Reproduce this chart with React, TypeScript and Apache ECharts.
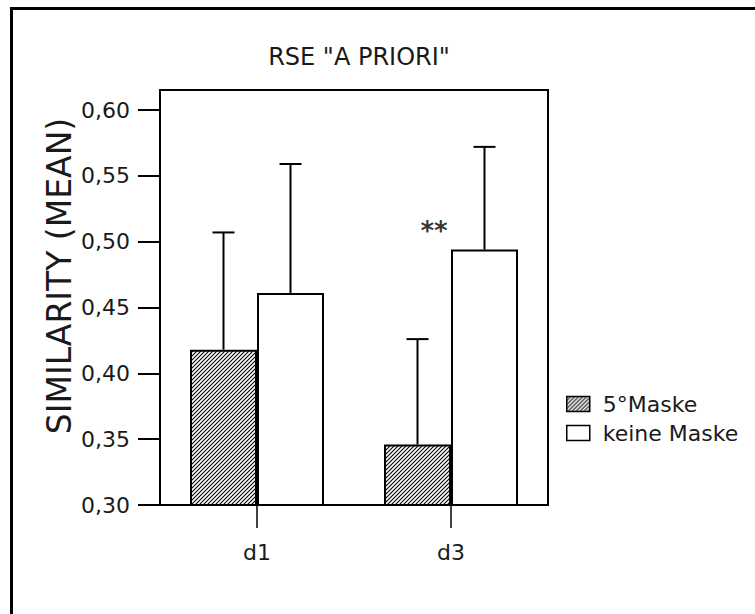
import React, { useEffect, useRef } from 'react';
import * as echarts from 'echarts';

const categories = ['d1', 'd3'];
const seriesNames = ['5°Maske', 'keine Maske'];
const maske5Mean = [0.418, 0.346];
const maske5Upper = [0.507, 0.426];
const keineMean = [0.461, 0.494];
const keineUpper = [0.559, 0.572];
const yTicks = [0.3, 0.35, 0.4, 0.45, 0.5, 0.55, 0.6];
const titleText = 'RSE "A PRIORI"';
const yAxisTitle = 'SIMILARITY (MEAN)';
const significance = [{ category: 'd3', value: 0.51, text: '**' }];

const FONT = 'DejaVu Sans';
const TXT = '#1a1a1a';

function makeHatch(): HTMLCanvasElement {
  const c = document.createElement('canvas');
  c.width = 4;
  c.height = 4;
  const ctx = c.getContext('2d')!;
  ctx.fillStyle = '#fff';
  ctx.fillRect(0, 0, 4, 4);
  ctx.strokeStyle = '#000';
  ctx.lineWidth = 1.1;
  ctx.beginPath();
  ctx.moveTo(-1, 5);
  ctx.lineTo(5, -1);
  ctx.moveTo(-1, 1);
  ctx.lineTo(1, -1);
  ctx.moveTo(3, 5);
  ctx.lineTo(5, 3);
  ctx.stroke();
  return c;
}

function errorSeries(means: number[], uppers: number[], offset: number) {
  return {
    type: 'custom',
    silent: true,
    z: 5,
    encode: { x: 0, y: [1, 2] },
    data: categories.map((_, i) => [i, means[i], uppers[i]]),
    renderItem: (_params: any, api: any) => {
      const cat = api.value(0);
      const p0 = api.coord([cat, api.value(1)]);
      const p1 = api.coord([cat, api.value(2)]);
      const x = p0[0] + offset;
      const st = { stroke: '#000', lineWidth: 2 };
      return {
        type: 'group',
        children: [
          { type: 'line', shape: { x1: x, y1: p0[1], x2: x, y2: p1[1] }, style: st },
          { type: 'line', shape: { x1: x - 11, y1: p1[1], x2: x + 11, y2: p1[1] }, style: st },
        ],
      };
    },
  };
}

export default function App() {
  const ref = useRef<HTMLDivElement>(null);
  useEffect(() => {
    if (!ref.current) return;
    const chart = echarts.init(ref.current, null, { renderer: 'svg' });
    const hatch = makeHatch();
    const hatchColor: any = { image: hatch, repeat: 'repeat', imageWidth: 4, imageHeight: 4 };
    chart.setOption({
      animation: false,
      backgroundColor: '#fff',
      title: {
        text: titleText,
        left: 354,
        top: 40,
        textAlign: 'center',
        textStyle: { fontFamily: FONT, fontSize: 24, fontWeight: 'normal', color: TXT },
      },
      legend: {
        data: seriesNames,
        orient: 'vertical',
        left: 561,
        top: 388,
        icon: 'rect',
        itemWidth: 23,
        itemHeight: 15,
        itemGap: 7,
        selectedMode: false,
        itemStyle: { borderColor: '#000', borderWidth: 1.5 },
        textStyle: { fontFamily: FONT, fontSize: 22, color: TXT, lineHeight: 22, padding: [0, 0, 0, 8] },
      },
      grid: {
        left: 160,
        right: 207,
        top: 90,
        bottom: 109,
        show: true,
        borderColor: '#000',
        borderWidth: 2,
        backgroundColor: 'transparent',
      },
      xAxis: {
        type: 'category',
        data: categories,
        axisLine: { show: true, lineStyle: { color: '#000', width: 2 } },
        axisTick: { show: true, interval: 0, alignWithLabel: true, length: 23, lineStyle: { color: '#000', width: 1.5 } },
        axisLabel: { fontFamily: FONT, fontSize: 22, color: TXT, margin: 36 },
        splitLine: { show: false },
      },
      yAxis: {
        type: 'value',
        min: 0.3,
        max: 0.6152,
        interval: 0.05,
        axisLine: { show: true, lineStyle: { color: '#000', width: 2 } },
        axisTick: { show: true, length: 22, customValues: yTicks, lineStyle: { color: '#000', width: 2 } },
        axisLabel: {
          customValues: yTicks,
          fontFamily: FONT,
          fontSize: 22,
          color: TXT,
          margin: 30,
          formatter: (v: number) => v.toFixed(2).replace('.', ','),
        },
        splitLine: { show: false },
      },
      graphic: [
        {
          type: 'rect',
          silent: true,
          shape: { x: 11.5, y: 8.5, width: 800, height: 700 },
          style: { fill: 'none', stroke: '#000', lineWidth: 3 },
        },
        {
          type: 'text',
          x: 59,
          y: 276,
          rotation: Math.PI / 2,
          silent: true,
          style: {
            text: yAxisTitle,
            fontFamily: FONT,
            fontSize: 33,
            fill: TXT,
            align: 'center',
            verticalAlign: 'middle',
          },
        },
      ],
      series: [
        {
          name: seriesNames[0],
          type: 'bar',
          data: maske5Mean,
          barWidth: 67,
          barGap: '0%',
          itemStyle: { color: hatchColor, borderColor: '#000', borderWidth: 2 },
          silent: true,
        },
        {
          name: seriesNames[1],
          type: 'bar',
          data: keineMean,
          barWidth: 67,
          barGap: '0%',
          itemStyle: { color: '#fff', borderColor: '#000', borderWidth: 2 },
          silent: true,
        },
        errorSeries(maske5Mean, maske5Upper, -33.5),
        errorSeries(keineMean, keineUpper, 33.5),
        {
          type: 'scatter',
          silent: true,
          z: 6,
          symbolSize: 0,
          itemStyle: { color: 'rgba(0,0,0,0)' },
          data: significance.map((s) => [s.category, s.value]),
          label: {
            show: true,
            position: 'inside',
            offset: [-17, 2],
            formatter: (p: any) => significance[p.dataIndex].text,
            fontFamily: FONT,
            fontSize: 26,
            fontWeight: 'bold',
            color: '#000',
          },
        },
      ],
    });
    return () => chart.dispose();
  }, []);
  return (
    <div
      ref={ref}
      style={{ position: 'fixed', left: 0, top: 0, width: 755, height: 614, background: '#fff' }}
    />
  );
}
